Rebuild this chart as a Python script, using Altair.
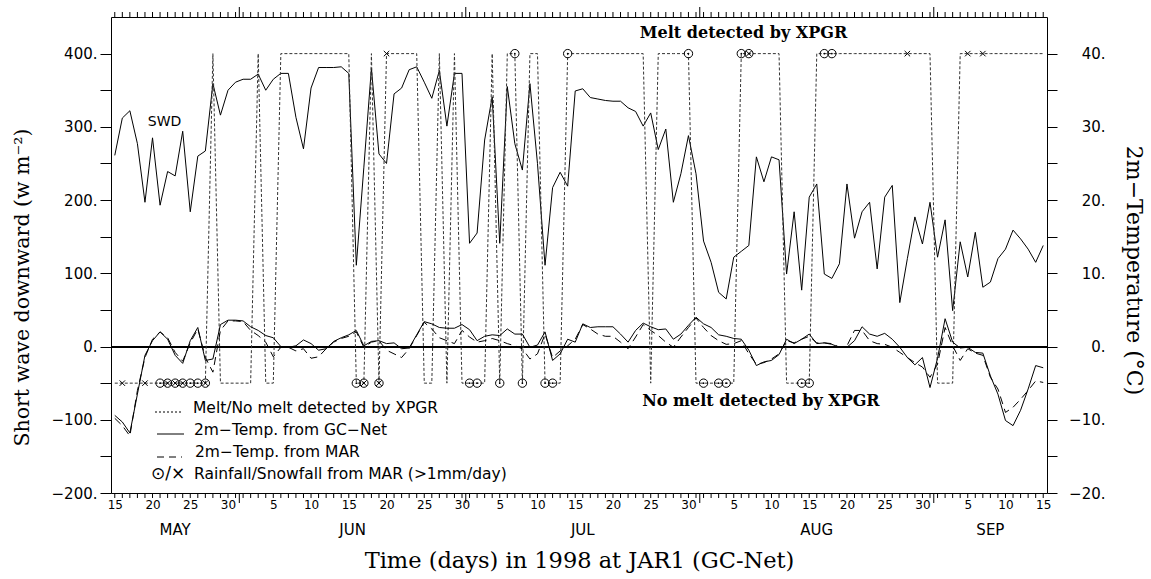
import json
import altair as alt
import pandas as pd

SANS = "DejaVu Sans"
SERIF = "DejaVu Serif"

# ---- data: one value per day, index 0 = 15 May 1998 ... 123 = 15 Sep 1998 ----
swd = [261, 312, 322, 277, 197, 285, 193, 239, 233, 294,
       184, 260, 267, 359, 316, 350, 361, 365, 365, 372,
       350, 365, 373, 373, 313, 270, 353, 381, 381, 381,
       382, 373, 111, 245, 380, 263, 250, 345, 353, 378,
       382, 361, 339, 377, 301, 373, 373, 141, 155, 282,
       341, 141, 355, 277, 241, 359, 250, 111, 217, 238,
       219, 349, 352, 340, 338, 336, 335, 335, 326, 321,
       301, 319, 269, 297, 197, 236, 288, 236, 144, 115,
       74, 65, 122, 130, 138, 259, 225, 259, 255, 99,
       184, 77, 204, 222, 99, 93, 113, 222, 148, 184,
       197, 106, 204, 220, 60, 120, 177, 140, 197, 122,
       173, 49, 143, 95, 156, 81, 88, 120, 133, 159,
       147, 133, 115, 138]

t_gcnet = [-9.4, -10.3, -11.8, -6.5, -1.2, 0.8, 2.0, 1.0, -1.2, -2.3,
           0.8, 2.6, -1.9, -1.7, 3.0, 3.6, 3.6, 3.5, 2.7, 2.2,
           1.5, 1.2, 0.0, -0.1, 0.1, 0.9, 0.4, -0.5, -0.3, 0.7,
           1.2, 1.6, 2.2, 0.1, 0.7, 0.8, 0.4, 0.5, -0.3, -0.2,
           1.6, 3.4, 3.1, 2.6, 2.5, 2.5, 3.0, 2.3, 0.8, 1.4,
           1.6, 1.5, 2.4, 1.7, 1.7, -0.1, 0.2, 2.0, -1.9, -1.0,
           1.0, 0.6, 3.1, 2.6, 2.7, 2.7, 2.7, 1.7, 0.6, 2.2,
           3.2, 2.7, 2.3, 2.4, 1.0, 1.7, 2.9, 4.0, 3.1, 2.6,
           1.6, 1.4, 1.1, 1.0, -0.5, -2.6, -2.1, -1.9, -1.1, 1.0,
           0.4, 1.0, 1.7, 0.4, 0.5, 0.3, -0.1, -0.1, 0.8, 2.7,
           1.7, 1.4, 1.8, 1.0, -0.1, -1.5, -2.5, -1.5, -5.6, -1.6,
           3.8, 0.6, -0.2, -0.1, -0.8, -0.9, -4.0, -6.5, -10.1, -10.8,
           -8.7, -5.8, -2.6, -2.9]

t_mar = [-9.8, -10.8, -12.2, -6.0, -1.5, 1.0, 2.0, 1.2, -0.8, -2.0,
         0.5, 2.4, -1.5, -3.5, 2.2, 3.5, 3.5, 3.4, 2.2, 1.5,
         0.6, -1.4, -0.1, -0.1, -0.6, -0.3, -1.6, -1.4, -0.3, 0.6,
         1.1, 1.4, 2.0, -0.1, 0.6, 0.8, -0.5, -1.0, -1.5, -0.3,
         1.5, 3.3, 2.4, 1.2, 0.8, 0.4, 2.2, 1.3, 0.6, 0.8,
         1.1, 0.8, 0.4, 0.1, -0.3, -1.7, -1.0, 1.7, -1.5, -0.6,
         0.1, 1.0, 3.0, 2.4, 1.7, 1.4, 1.4, 0.6, -0.3, 1.3,
         3.0, 2.2, 1.5, 0.6, -0.1, 1.3, 2.6, 3.9, 2.6, 1.5,
         0.8, 0.3, 0.4, 0.8, -1.0, -2.4, -2.2, -1.7, -1.0, 0.8,
         0.5, 1.0, 1.4, 0.5, 0.5, 0.4, -0.1, 0.1, 2.2, 2.2,
         0.8, 0.4, 0.3, -0.1, -0.8, -1.5, -2.2, -2.8, -4.2, -2.4,
         2.6, 0.1, -1.9, -0.3, -0.9, -1.2, -4.2, -5.8, -9.0, -8.3,
         -7.2, -6.0, -4.7, -4.9]

# 1 = melt detected by XPGR, 0 = no melt
melt_flag = [0, 0, 0, 0, 0, 0, 0, 0, 0, 0,
             0, 0, 0, 1, 0, 0, 0, 0, 0, 1,
             0, 0, 1, 1, 1, 1, 1, 1, 1, 1,
             1, 1, 0, 0, 1, 0, 1, 1, 1, 1,
             1, 0, 0, 1, 0, 1, 0, 0, 0, 0,
             1, 0, 1, 1, 0, 1, 1, 0, 0, 0,
             1, 1, 1, 1, 1, 1, 1, 1, 1, 1,
             1, 0, 1, 1, 1, 1, 1, 0, 0, 0,
             0, 0, 0, 1, 1, 1, 1, 1, 1, 0,
             0, 0, 0, 1, 1, 1, 1, 1, 1, 1,
             1, 1, 1, 1, 1, 1, 1, 1, 1, 0,
             0, 0, 1, 1, 1, 1, 1, 1, 1, 1,
             1, 1, 1, 1]

rain_days = [6, 7, 8, 9, 10, 11, 12, 32, 33, 35, 47, 48, 51, 53, 54, 57, 58,
             60, 76, 78, 80, 81, 83, 84, 91, 92, 94, 95]
snow_days = [1, 4, 7, 8, 9, 12, 33, 35, 36, 84, 105, 113, 115]

months = [("MAY", 15, 31), ("JUN", 1, 30), ("JUL", 1, 31), ("AUG", 1, 31), ("SEP", 1, 15)]

# ---- derived tables ----
day_of_month = []
month_centers = []
month_bounds = []
for name, d0, d1 in months:
    start = len(day_of_month)
    if start > 0:
        month_bounds.append(start - 0.5)
    day_of_month += [str(d) for d in range(d0, d1 + 1)]
    month_centers.append((start + len(day_of_month) - 1) / 2)
n = len(day_of_month)
label_days = [k for k, d in enumerate(day_of_month) if int(d) % 5 == 0]

df = pd.DataFrame({
    "i": list(range(n)),
    "swd": swd,
    "t_gcnet": t_gcnet,
    "t_mar": t_mar,
    "melt": [400 if m else -50 for m in melt_flag],
})
rain_df = df[df["i"].isin(rain_days)]
snow_df = df[df["i"].isin(snow_days)]
ticks_df = pd.DataFrame({"i": list(range(n))})
major_df = pd.DataFrame({"i": month_bounds})
month_df = pd.DataFrame({"i": month_centers, "name": [m[0] for m in months]})

W, H = 936, 476
xs = alt.Scale(domain=[-0.5, n - 0.5], nice=False, zero=False)
yl = alt.Scale(domain=[-200, 450], nice=False, zero=False)
yr = alt.Scale(domain=[-20, 45], nice=False, zero=False)

x_axis = alt.Axis(
    values=label_days,
    labelExpr=json.dumps(day_of_month) + "[datum.value]",
    ticks=False, domain=False, grid=False,
    labelFont=SANS, labelFontSize=12, labelColor="black", labelPadding=6,
    labelFlush=False, labelOverlap=False,
    title="Time (days) in 1998 at JAR1 (GC-Net)",
    titleFont=SERIF, titleFontSize=22.5, titleFontWeight="normal", titleColor="black",
    titleY=67, titleBaseline="middle",
)
yl_axis = alt.Axis(
    values=list(range(-200, 401, 50)),
    labelExpr="datum.value % 100 == 0 ? format(datum.value, 'd') + '.' : ''",
    tickSize=11, tickColor="black", domain=False, grid=False,
    labelFont=SANS, labelFontSize=15, labelColor="black", labelPadding=3,
    title="Short wave downward (w m⁻²)",
    titleFont=SERIF, titleFontSize=20.5, titleFontWeight="normal", titleColor="black",
    titleX=-89, titleY=270, titleBaseline="middle",
)
yr_axis = alt.Axis(
    orient="right",
    values=list(range(-20, 41, 5)),
    labelExpr="datum.value % 10 == 0 ? format(datum.value, 'd') + '.' : ''",
    tickSize=10, tickColor="black", domain=False, grid=False,
    labelFont=SANS, labelFontSize=15, labelColor="black", labelPadding=48,
    labelAlign="right",
    title="2m−Temperature (°C)",
    titleFont=SERIF, titleFontSize=22, titleFontWeight="normal", titleColor="black",
    titleX=86, titleY=253, titleAngle=90, titleBaseline="middle",
)

base = alt.Chart(df)
xi = alt.X("i:Q", scale=xs, axis=x_axis)
y_melt = alt.Y("melt:Q", scale=yl, axis=yl_axis)

swd_line = base.mark_line(color="black", strokeWidth=1).encode(
    x=xi, y=alt.Y("swd:Q", scale=yl, axis=yl_axis))
melt_line = base.mark_line(color="#333333", strokeWidth=1, strokeDash=[3, 2]).encode(
    x=xi, y=y_melt)
zero_rule = base.mark_rule(color="black", strokeWidth=0.9).encode(
    y=alt.Y(datum=0, scale=yl, axis=yl_axis))
rain_pts = alt.Chart(rain_df).mark_point(shape="circle", filled=False, size=70,
                                         color="black", strokeWidth=1, opacity=1).encode(
    x=xi, y=y_melt)
rain_dot = alt.Chart(rain_df).mark_point(shape="circle", filled=True, size=3,
                                         color="black", opacity=1).encode(
    x=xi, y=y_melt)
snow_pts = alt.Chart(snow_df).mark_point(shape="M-1,-1L1,1M-1,1L1,-1", filled=False, size=30,
                                         color="black", strokeWidth=1, opacity=1).encode(
    x=xi, y=y_melt)

bot_minor = alt.Chart(ticks_df).mark_rule(color="black").encode(x=xi, y=alt.value(H), y2=alt.value(H + 5))
top_minor = alt.Chart(ticks_df).mark_rule(color="black").encode(x=xi, y=alt.value(-5), y2=alt.value(0))
bot_major = alt.Chart(major_df).mark_rule(color="black").encode(x=xi, y=alt.value(H), y2=alt.value(H + 10))
top_major = alt.Chart(major_df).mark_rule(color="black").encode(x=xi, y=alt.value(-10), y2=alt.value(0))
month_txt = alt.Chart(month_df).mark_text(font=SANS, fontSize=15, color="black", baseline="middle").encode(
    x=xi, y=alt.value(H + 37), text="name:N")

one = pd.DataFrame({"k": [0]})


def note(text, xv, yv, **kw):
    return alt.Chart(one).mark_text(color="black", baseline="middle", **kw).encode(
        x=alt.X(datum=xv, scale=xs, axis=x_axis),
        y=alt.Y(datum=yv, scale=yl, axis=yl_axis),
        text=alt.value(text))


notes = [
    note("SWD", 6.6, 306, font=SANS, fontSize=14),
    note("Melt detected by XPGR", 83.3, 428, font=SERIF, fontSize=16, fontWeight="bold"),
    note("No melt detected by XPGR", 85.6, -74, font=SERIF, fontSize=16, fontWeight="bold"),
]


# legend (pixel positions inside the plot area)
def leg_text(text, x, y, size=15.5):
    return alt.Chart(one).mark_text(font=SANS, fontSize=size, color="black", align="left",
                                    baseline="middle").encode(
        x=alt.value(x), y=alt.value(y), text=alt.value(text))


def leg_line(x1, x2, y, **kw):
    return alt.Chart(one).mark_rule(color="black", strokeWidth=1, **kw).encode(
        x=alt.value(x1), x2=alt.value(x2), y=alt.value(y))


legend = [
    leg_line(44, 71, 395, strokeDash=[2, 2]),
    leg_text("Melt/No melt detected by XPGR", 82, 391),
    leg_line(46, 73, 417),
    leg_text("2m−Temp. from GC−Net", 83, 413),
    leg_line(46, 71, 440, strokeDash=[7, 5]),
    leg_text("2m−Temp. from MAR", 84, 435),
    leg_text("⊙/×", 40, 457, size=17),
    leg_text("Rainfall/Snowfall from MAR (>1mm/day)", 83, 457),
]

left = alt.layer(swd_line, zero_rule, melt_line, rain_pts, rain_dot, snow_pts,
                 bot_minor, top_minor, bot_major, top_major, month_txt, *notes, *legend)

y_right = alt.Y("t_gcnet:Q", scale=yr, axis=yr_axis)
t_gc_line = base.mark_line(color="black", strokeWidth=1).encode(x=xi, y=y_right)
t_mar_line = base.mark_line(color="black", strokeWidth=1, strokeDash=[8, 5]).encode(
    x=xi, y=alt.Y("t_mar:Q", scale=yr, axis=yr_axis))
right = alt.layer(t_gc_line, t_mar_line)

chart = alt.layer(left, right).resolve_scale(y="independent").properties(
    width=W, height=H,
    autosize=alt.AutoSizeParams(type="none"),
    padding={"left": 111, "top": 17, "right": 1151 - 111 - W, "bottom": 579 - 17 - H},
    background="white",
).configure_view(stroke="black", strokeWidth=1)

chart.save("out.html", embed_options={"renderer": "svg", "actions": False})
